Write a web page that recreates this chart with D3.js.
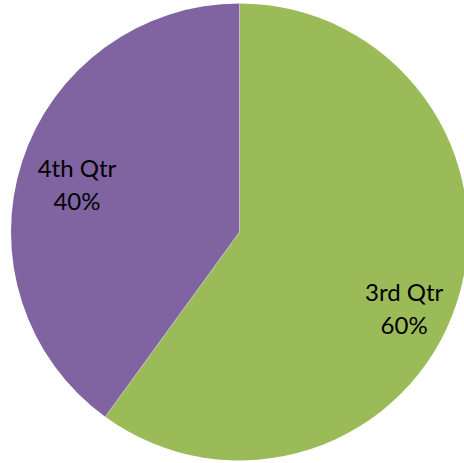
<!DOCTYPE html>
<html>
<head>
<meta charset="utf-8">
<script src="https://cdn.jsdelivr.net/npm/d3@7"></script>
<style>
  html, body { margin: 0; padding: 0; background: #fff; }
  svg { display: block; }
</style>
</head>
<body>
<svg id="chart" width="464" height="463"></svg>
<script>
// Quarterly share of sales
const categories = ["3rd Qtr", "4th Qtr"];
const values = [60, 40];
const colors = ["#9BBB59", "#8064A2"];
const labelLines = [["3rd Qtr", "60%"], ["4th Qtr", "40%"]];

// Label placement (radius fraction and angle tweak in degrees) per slice
const labelPlace = [{ r: 0.795, shift: 7 }, { r: 0.74, shift: -2 }];

const svg = d3.select("#chart");
const cx = 239.5, cy = 232, radius = 228.5;

const pie = d3.pie().sort(null).value(d => d.value);
const arcs = pie(categories.map((c, i) => ({ name: c, value: values[i], idx: i })));

const arc = d3.arc().innerRadius(0).outerRadius(radius);

const g = svg.append("g").attr("transform", `translate(${cx},${cy})`);

g.selectAll("path.slice")
  .data(arcs)
  .join("path")
  .attr("class", "slice")
  .attr("d", arc)
  .attr("fill", d => colors[d.data.idx]);

// Divider lines between slices
g.selectAll("path.edge")
  .data(arcs)
  .join("path")
  .attr("class", "edge")
  .attr("d", d => {
    const a = d.startAngle;
    return `M0,0L${radius * Math.sin(a)},${-radius * Math.cos(a)}`;
  })
  .attr("stroke", "#ffffff")
  .attr("stroke-opacity", 0.35)
  .attr("stroke-width", 1);

function labelPos(d) {
  const p = labelPlace[d.data.idx];
  const mid = (d.startAngle + d.endAngle) / 2 + p.shift * Math.PI / 180;
  const r = radius * p.r;
  return [r * Math.sin(mid), -r * Math.cos(mid)];
}

const lineGap = 33;
const labels = g.selectAll("text.lbl")
  .data(arcs)
  .join("text")
  .attr("class", "lbl")
  .attr("transform", d => `translate(${labelPos(d)})`)
  .attr("text-anchor", "middle")
  .attr("font-family", "Lato, 'Open Sans', sans-serif")
  .attr("font-size", 24)
  .attr("fill", "#000");

labels.each(function (d) {
  const lines = labelLines[d.data.idx];
  const t = d3.select(this);
  lines.forEach((ln, i) => {
    t.append("tspan")
      .attr("x", 0)
      .attr("y", (i - (lines.length - 1) / 2) * lineGap)
      .attr("dy", "0.35em")
      .text(ln);
  });
});
</script>
</body>
</html>
